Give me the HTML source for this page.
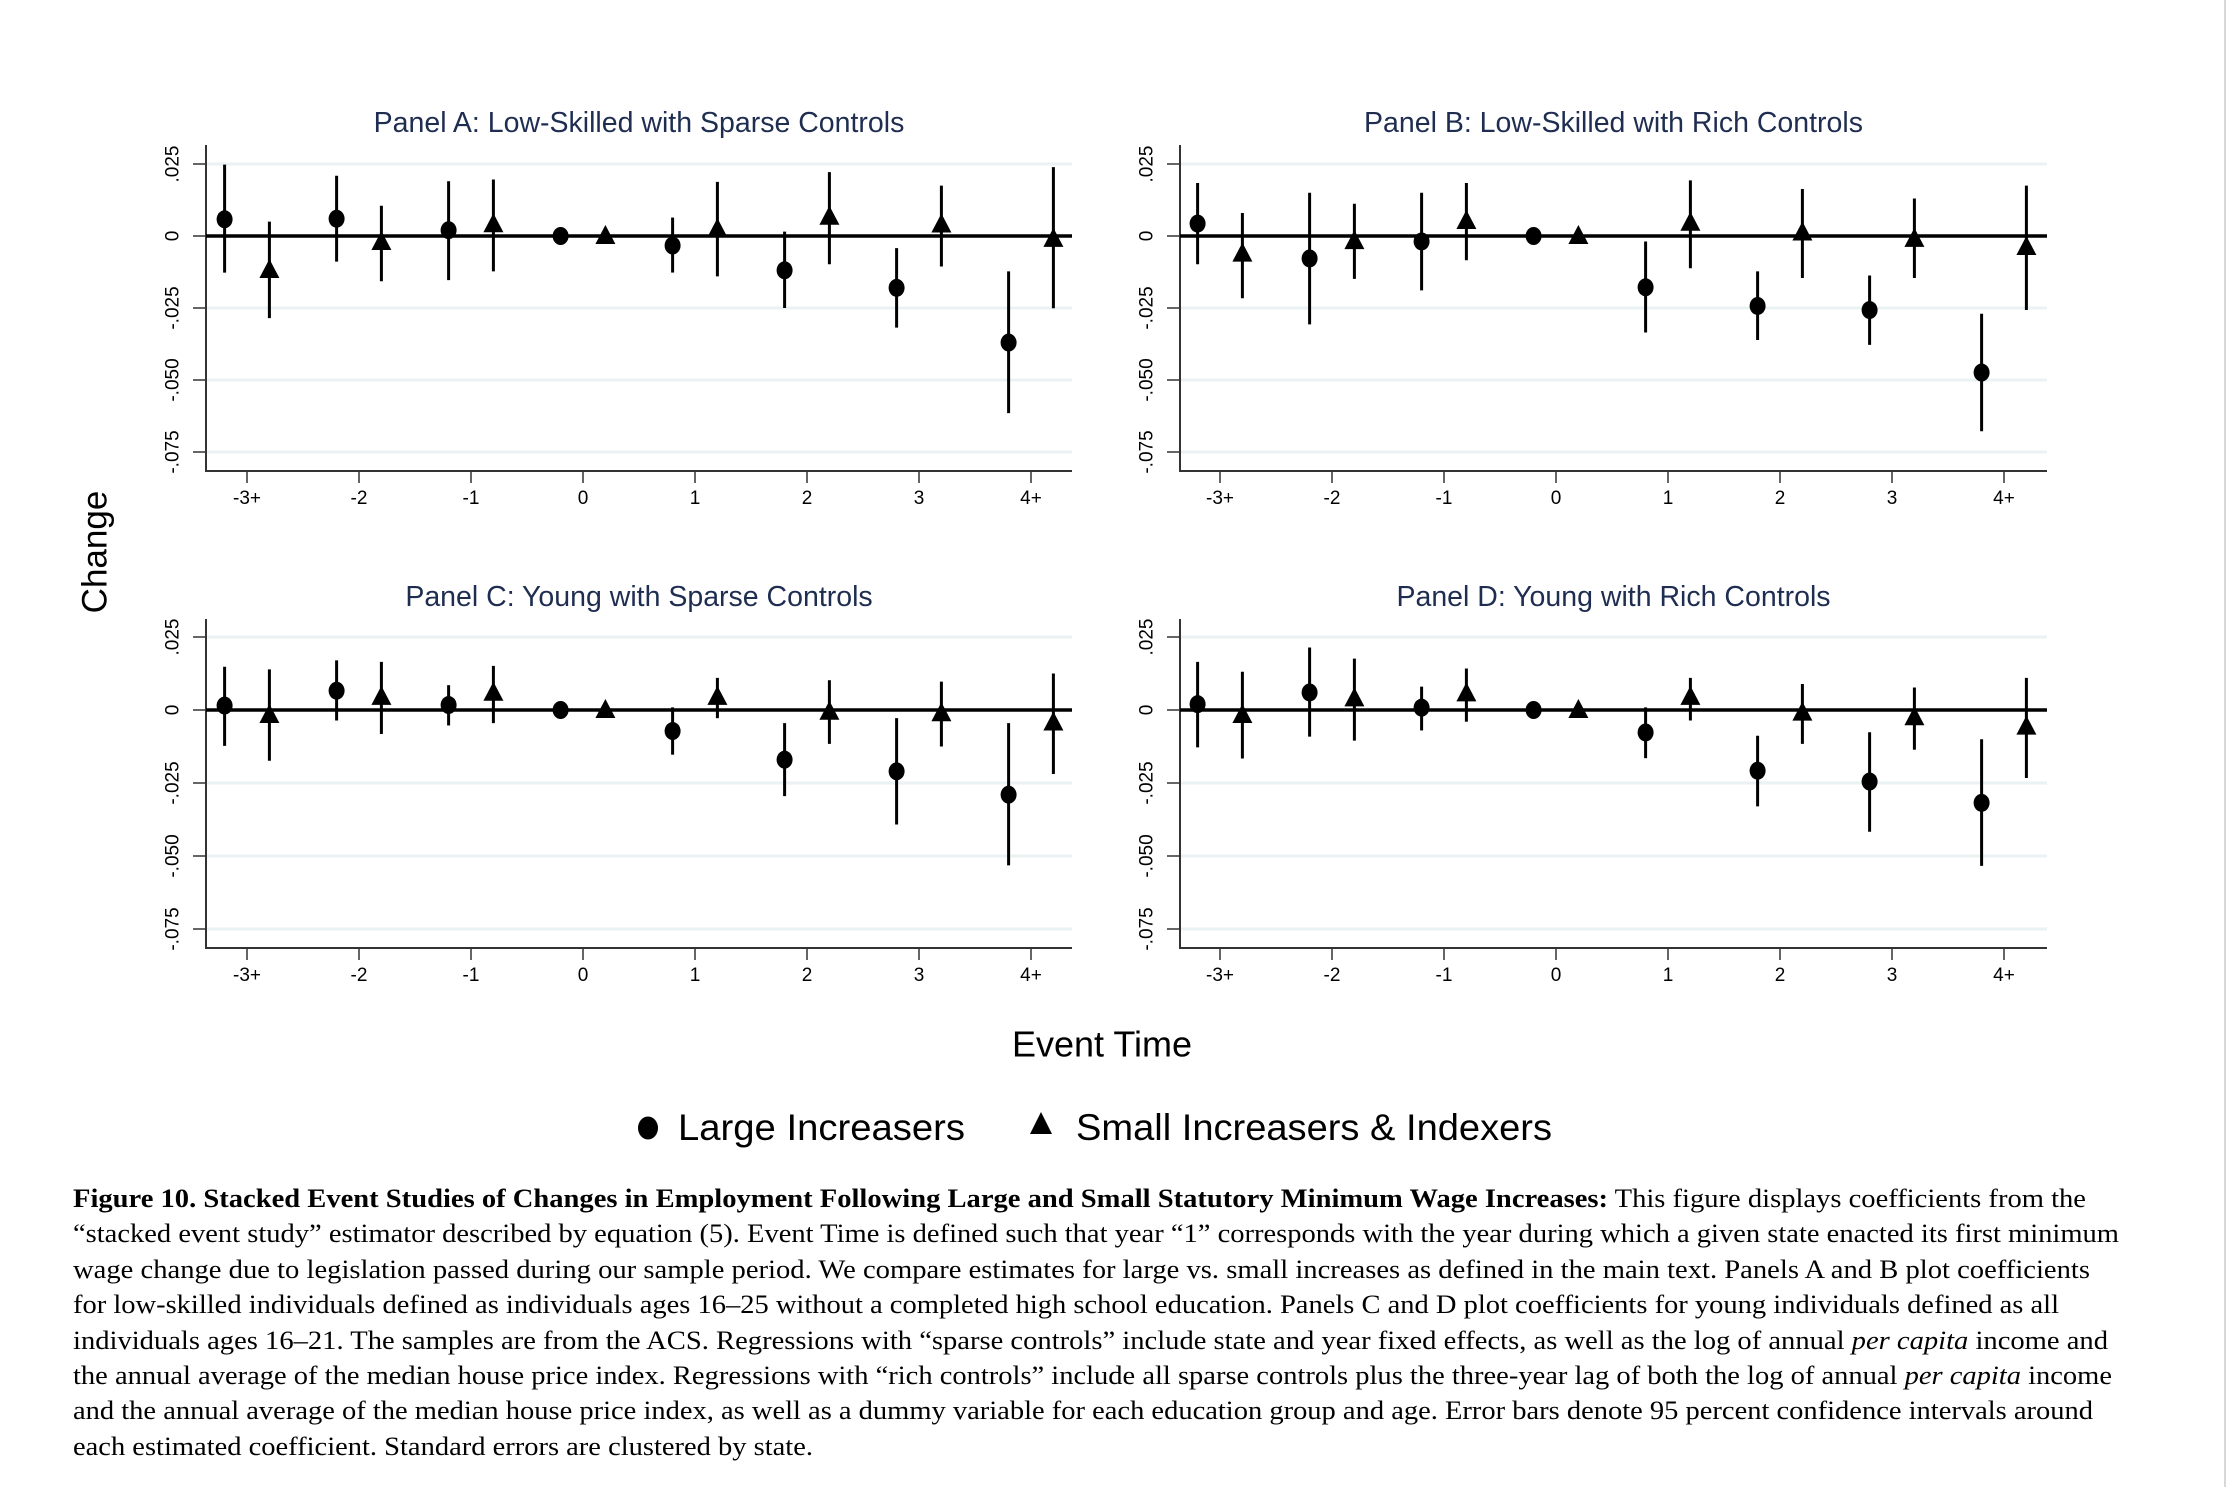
<!DOCTYPE html>
<html><head><meta charset="utf-8"><style>
html,body{margin:0;padding:0;background:#fff;}
svg{display:block;}
</style></head><body>
<svg id="fig" width="2230" height="1487" viewBox="0 0 2230 1487" xmlns="http://www.w3.org/2000/svg">
<rect x="0" y="0" width="2230" height="1487" fill="#fff"/>
<line x1="2225" y1="0" x2="2225" y2="1487" stroke="#d8d8d8" stroke-width="2"/>
<g id="panels"></g>
<text x="97" y="552" transform="rotate(-90 97 552)" text-anchor="middle" dominant-baseline="middle" font-family="Liberation Sans, sans-serif" font-size="35" fill="#000">Change</text>
<text x="1102" y="1047" text-anchor="middle" dominant-baseline="middle" font-family="Liberation Sans, sans-serif" font-size="36" fill="#000">Event Time</text>
<g>
<g>
<ellipse cx="648" cy="1128" rx="10" ry="11.5" fill="#000"/>
<text x="678" y="1140" textLength="287" lengthAdjust="spacingAndGlyphs" font-family="Liberation Sans, sans-serif" font-size="37" fill="#000">Large Increasers</text>
</g>
<g>
<polygon points="1041,1112 1052,1134 1030,1134" fill="#000"/>
<text x="1076" y="1140" textLength="476" lengthAdjust="spacingAndGlyphs" font-family="Liberation Sans, sans-serif" font-size="37" fill="#000">Small Increasers &amp; Indexers</text>
</g>
</g>
<g font-family="Liberation Serif, serif" font-size="26" fill="#000">
<text x="73" y="1207" textLength="2013" lengthAdjust="spacingAndGlyphs"><tspan font-weight="bold">Figure 10. Stacked Event Studies of Changes in Employment Following Large and Small Statutory Minimum Wage Increases:</tspan> This figure displays coefficients from the</text>
<text x="73" y="1242" textLength="2046" lengthAdjust="spacingAndGlyphs">“stacked event study” estimator described by equation (5). Event Time is defined such that year “1” corresponds with the year during which a given state enacted its first minimum</text>
<text x="73" y="1278" textLength="2017" lengthAdjust="spacingAndGlyphs">wage change due to legislation passed during our sample period. We compare estimates for large vs. small increases as defined in the main text. Panels A and B plot coefficients</text>
<text x="73" y="1313" textLength="1986" lengthAdjust="spacingAndGlyphs">for low-skilled individuals defined as individuals ages 16–25 without a completed high school education. Panels C and D plot coefficients for young individuals defined as all</text>
<text x="73" y="1349" textLength="2035" lengthAdjust="spacingAndGlyphs">individuals ages 16–21. The samples are from the ACS. Regressions with “sparse controls” include state and year fixed effects, as well as the log of annual <tspan font-style="italic">per capita</tspan> income and</text>
<text x="73" y="1384" textLength="2039" lengthAdjust="spacingAndGlyphs">the annual average of the median house price index. Regressions with “rich controls” include all sparse controls plus the three-year lag of both the log of annual <tspan font-style="italic">per capita</tspan> income</text>
<text x="73" y="1419" textLength="2020" lengthAdjust="spacingAndGlyphs">and the annual average of the median house price index, as well as a dummy variable for each education group and age. Error bars denote 95 percent confidence intervals around</text>
<text x="73" y="1455" textLength="740" lengthAdjust="spacingAndGlyphs">each estimated coefficient. Standard errors are clustered by state.</text>
</g>
</svg>
<script>
const categories = ["-3+","-2","-1","0","1","2","3","4+"];
const yTicks = [0.025, 0, -0.025, -0.05, -0.075];
const yTickLabels = [".025","0","-.025","-.050","-.075"];
const panelTitles = ["Panel A: Low-Skilled with Sparse Controls","Panel B: Low-Skilled with Rich Controls","Panel C: Young with Sparse Controls","Panel D: Young with Rich Controls"];
// Panel A
const aLargePt = [0.0058, 0.006, 0.002, 0, -0.0033, -0.0119, -0.018, -0.037];
const aLargeLo = [-0.0127, -0.0089, -0.0153, 0, -0.0127, -0.025, -0.0318, -0.0615];
const aLargeHi = [0.0248, 0.0209, 0.019, 0, 0.0064, 0.0015, -0.0042, -0.0123];
const aSmallPt = [-0.0118, -0.0021, 0.0041, 0, 0.0024, 0.0067, 0.004, -0.001];
const aSmallLo = [-0.0285, -0.0157, -0.0123, 0, -0.014, -0.0098, -0.0106, -0.0251];
const aSmallHi = [0.005, 0.0105, 0.0196, 0, 0.0188, 0.0222, 0.0175, 0.0239];
// Panel B
const bLargePt = [0.0043, -0.0078, -0.0019, 0, -0.0178, -0.0243, -0.0257, -0.0474];
const bLargeLo = [-0.0098, -0.0307, -0.0189, 0, -0.0335, -0.0361, -0.0378, -0.0678];
const bLargeHi = [0.0184, 0.015, 0.015, 0, -0.0019, -0.0123, -0.0137, -0.027];
const bSmallPt = [-0.0061, -0.0018, 0.0052, 0, 0.0046, 0.0012, -0.001, -0.0038];
const bSmallLo = [-0.0216, -0.0149, -0.0084, 0, -0.0112, -0.0146, -0.0146, -0.0257];
const bSmallHi = [0.008, 0.0112, 0.0184, 0, 0.0193, 0.0163, 0.013, 0.0175];
// Panel C
const cLargePt = [0.0015, 0.0066, 0.0017, 0, -0.0072, -0.017, -0.021, -0.029];
const cLargeLo = [-0.0123, -0.0036, -0.0053, 0, -0.0153, -0.0295, -0.0392, -0.0532];
const cLargeHi = [0.0148, 0.017, 0.0085, 0, 0.0009, -0.0045, -0.0028, -0.0045];
const cSmallPt = [-0.0017, 0.0045, 0.0059, 0, 0.0045, -0.0006, -0.0011, -0.0043];
const cSmallLo = [-0.0174, -0.0082, -0.0045, 0, -0.0028, -0.0116, -0.0125, -0.0219];
const cSmallHi = [0.0139, 0.0165, 0.0151, 0, 0.011, 0.0102, 0.0097, 0.0125];
// Panel D
const dLargePt = [0.002, 0.006, 0.0008, 0, -0.0077, -0.0208, -0.0245, -0.0318];
const dLargeLo = [-0.0128, -0.0091, -0.007, 0, -0.0165, -0.033, -0.0417, -0.0534];
const dLargeHi = [0.0165, 0.0214, 0.008, 0, 0.0009, -0.0088, -0.0076, -0.01];
const dSmallPt = [-0.0017, 0.004, 0.0057, 0, 0.0045, -0.0009, -0.0025, -0.0057];
const dSmallLo = [-0.0166, -0.0105, -0.004, 0, -0.0036, -0.0116, -0.0136, -0.0233];
const dSmallHi = [0.0131, 0.0176, 0.0142, 0, 0.011, 0.0089, 0.0077, 0.011];

const NS = "http://www.w3.org/2000/svg";
const root = document.getElementById("panels");
function mk(tag, attrs, parent) {
  const e = document.createElementNS(NS, tag);
  for (const k in attrs) e.setAttribute(k, attrs[k]);
  parent.appendChild(e);
  return e;
}
const layouts = [
  {left:206, right:1072, top:145, y0:236, yPerUnit:(236-164)/0.025, firstX:247, titleY:122},
  {left:1180, right:2047, top:145, y0:236, yPerUnit:(236-164)/0.025, firstX:1220, titleY:122},
  {left:206, right:1072, top:619, y0:710, yPerUnit:(710-637)/0.025, firstX:247, titleY:596},
  {left:1180, right:2047, top:619, y0:710, yPerUnit:(710-637)/0.025, firstX:1220, titleY:596}
];
const series = [
  [aLargePt,aLargeLo,aLargeHi,aSmallPt,aSmallLo,aSmallHi],
  [bLargePt,bLargeLo,bLargeHi,bSmallPt,bSmallLo,bSmallHi],
  [cLargePt,cLargeLo,cLargeHi,cSmallPt,cSmallLo,cSmallHi],
  [dLargePt,dLargeLo,dLargeHi,dSmallPt,dSmallLo,dSmallHi]
];
const names = ["a","b","c","d"];
layouts.forEach((L, p) => {
  const step = 112;
  const xS = i => L.firstX + i * step;
  const yS = v => L.y0 - v * L.yPerUnit;
  const bottom = yS(-0.075) + 19;
  const g = mk("g", {}, root);
  
  
  const t = mk("text", {x:(L.left+L.right)/2, y:L.titleY + 10, "text-anchor":"middle", "font-family":"Liberation Sans, sans-serif", "font-size":"28.5", fill:"#1e2d50"}, g);
  t.textContent = panelTitles[p];
  
  
  yTicks.forEach((v, i) => {
    const y = yS(v);
    if (v !== 0) {
      const gl = mk("line", {x1:L.left, x2:L.right, y1:y, y2:y, stroke:"#eaf2f3", "stroke-width":"3"}, g);
      
      
    }
    const tk = mk("line", {x1:L.left-13, x2:L.left, y1:y, y2:y, stroke:"#333", "stroke-width":"1.5"}, g);
    
    
    const lx = L.left - 33;
    const lb = mk("text", {x:lx, y:y, transform:`rotate(-90 ${lx} ${y})`, "text-anchor":"middle", "dominant-baseline":"central", "font-family":"Liberation Sans, sans-serif", "font-size":"19", fill:"#000"}, g);
    lb.textContent = yTickLabels[i];
    
    
  });
  const ax = mk("path", {d:`M${L.left} ${L.top} V${bottom} H${L.right}`, fill:"none", stroke:"#333", "stroke-width":"2"}, g);
  
  
  categories.forEach((c, i) => {
    const x = xS(i);
    const tk = mk("line", {x1:x, x2:x, y1:bottom, y2:bottom+12, stroke:"#333", "stroke-width":"1.5"}, g);
    
    
    const lb = mk("text", {x:x, y:bottom+33, "text-anchor":"middle", "font-family":"Liberation Sans, sans-serif", "font-size":"19", fill:"#000"}, g);
    lb.textContent = c;
    
    
  });
  const zl = mk("line", {x1:L.left, x2:L.right, y1:L.y0, y2:L.y0, stroke:"#000", "stroke-width":"3.5"}, g);
  
  
  const [lp, ll, lh, sp, sl, sh] = series[p];
  categories.forEach((c, i) => {
    const xl = xS(i) - 0.2 * step;
    const eb = mk("line", {x1:xl, x2:xl, y1:yS(ll[i]), y2:yS(lh[i]), stroke:"#000", "stroke-width":"3"}, g);
    
    
    const ci = mk("ellipse", {cx:xl, cy:yS(lp[i]), rx:"8", ry:"9", fill:"#000"}, g);
    
    
    const xs = xS(i) + 0.2 * step;
    const eb2 = mk("line", {x1:xs, x2:xs, y1:yS(sl[i]), y2:yS(sh[i]), stroke:"#000", "stroke-width":"3"}, g);
    
    
    const cy = yS(sp[i]);
    const tr = mk("polygon", {points:`${xs},${cy-11} ${xs+10},${cy+8} ${xs-10},${cy+8}`, fill:"#000"}, g);
    
    
  });
});
</script>
</body></html>
